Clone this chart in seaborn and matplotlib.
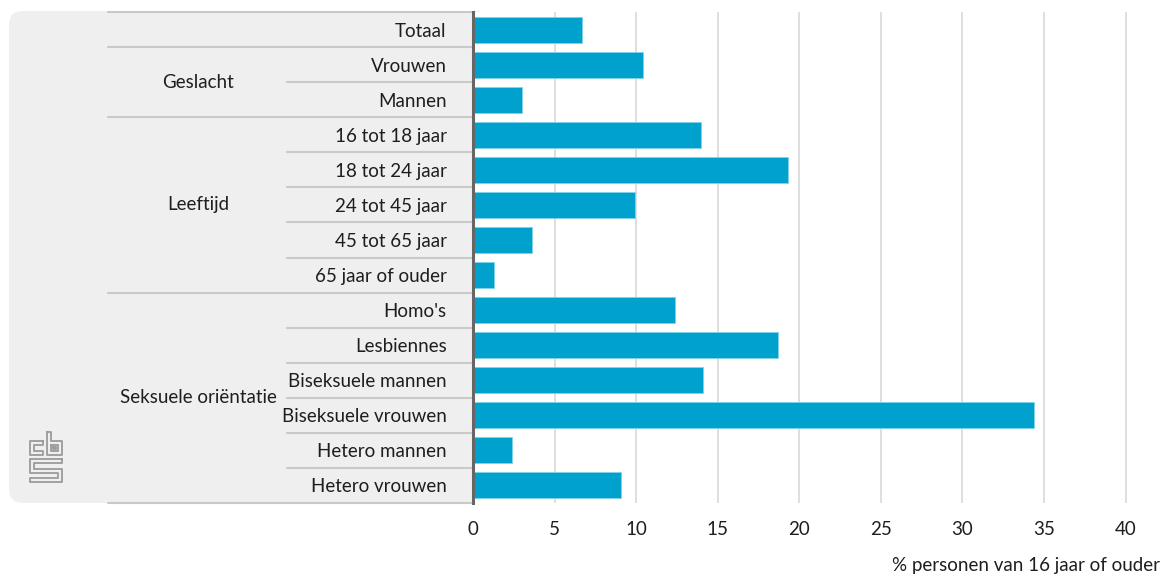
import matplotlib
matplotlib.use("Agg")
import matplotlib.pyplot as plt
import matplotlib.transforms as mtransforms
from matplotlib.patches import FancyBboxPatch
from matplotlib.lines import Line2D
import pandas as pd
import seaborn as sns

# -----------------------------
# Data
# -----------------------------
categories = ["Totaal", "Vrouwen", "Mannen",
              "16 tot 18 jaar", "18 tot 24 jaar", "24 tot 45 jaar",
              "45 tot 65 jaar", "65 jaar of ouder",
              "Homo's", "Lesbiennes", "Biseksuele mannen",
              "Biseksuele vrouwen", "Hetero mannen", "Hetero vrouwen"]
groups = ["", "Geslacht", "Geslacht",
          "Leeftijd", "Leeftijd", "Leeftijd", "Leeftijd", "Leeftijd",
          "Seksuele oriëntatie", "Seksuele oriëntatie", "Seksuele oriëntatie",
          "Seksuele oriëntatie", "Seksuele oriëntatie", "Seksuele oriëntatie"]
values = [6.7, 10.4, 3.0, 14.0, 19.3, 9.9, 3.6, 1.3,
          12.4, 18.7, 14.1, 34.4, 2.4, 9.1]
x_ticks = [0, 5, 10, 15, 20, 25, 30, 35, 40]
x_label = "% personen van 16 jaar of ouder"

BAR = "#00a1cd"
TEXT = "#1e1e1e"
PANEL = "#efefef"
SEP = "#c9c9c9"
FS = 13.5

W, H = 1165, 576

# -----------------------------
# Plot
# -----------------------------
sns.set_theme(style="white")
plt.rcParams["font.family"] = ["Lato", "DejaVu Sans"]

df = pd.DataFrame({"categorie": categories, "groep": groups, "waarde": values})

fig = plt.figure(figsize=(W / 100, H / 100), dpi=100)
ax = fig.add_axes([473 / W, (H - 503) / H, (1150 - 473) / W, (503 - 12) / H])
ax.set_zorder(1)

sns.barplot(data=df, y="categorie", x="waarde", orient="h", color=BAR,
            saturation=1, width=0.74, edgecolor="#7fd3ea", linewidth=0.6, ax=ax)

ax.set_xlim(0, 41.5)
ax.set_xticks(x_ticks)
ax.set_xticklabels([str(t) for t in x_ticks])
ax.set_xlabel("")
ax.set_ylabel("")
ax.grid(axis="x", color="#dcdcdc", linewidth=1.3)
ax.set_axisbelow(True)
for s in ["top", "right", "bottom"]:
    ax.spines[s].set_visible(False)
ax.spines["left"].set_color("#666666")
ax.spines["left"].set_linewidth(2.2)
ax.tick_params(axis="y", length=0, pad=19, labelsize=FS, labelcolor=TEXT)
ax.tick_params(axis="x", length=0, pad=13, labelsize=FS, labelcolor=TEXT)

# grey panel behind the labels
panel = FancyBboxPatch((9 / W, (H - 503) / H), (490 - 9) / W, (503 - 11) / H,
                       boxstyle="round,pad=0,rounding_size=0.012",
                       transform=fig.transFigure, facecolor=PANEL,
                       edgecolor="none", zorder=-1, mutation_aspect=W / H)
fig.patches.append(panel)

# separator lines between rows and groups
trans = mtransforms.blended_transform_factory(fig.transFigure, ax.transData)
n = len(categories)
for i in range(n + 1):
    yb = i - 0.5
    if i == 0 or i == n or groups[i] != groups[i - 1]:
        x0 = 108 / W
    else:
        x0 = 287 / W
    fig.add_artist(Line2D([x0, 473 / W], [yb, yb], transform=trans,
                          color=SEP, linewidth=1.5, zorder=0.5))

# group labels
for g in dict.fromkeys(groups):
    if not g:
        continue
    idx = [i for i, v in enumerate(groups) if v == g]
    yc = (idx[0] + idx[-1]) / 2
    fig.text(198 / W, yc, g, transform=trans, ha="center", va="center",
             fontsize=FS, color=TEXT)

# cbs logo
lx, ly = 30, 432
logo = [
    [(13, 9), (0, 9), (0, 23), (13, 23), (13, 19), (4, 19), (4, 13), (13, 13), (13, 9)],
    [(17, 0), (21, 0), (21, 9), (32, 9), (32, 23), (17, 23), (17, 0)],
    [(21, 13), (28, 13), (28, 19), (21, 19), (21, 13)],
    [(23, 15), (26, 15), (26, 17), (23, 17), (23, 15)],
    [(32, 27), (0, 27), (0, 41), (28, 41), (28, 46), (0, 46), (0, 50), (32, 50),
     (32, 37), (4, 37), (4, 31), (32, 31), (32, 27)],
]
for path in logo:
    xs = [(lx + p[0]) / W for p in path]
    ys = [1 - (ly + p[1]) / H for p in path]
    fig.add_artist(Line2D(xs, ys, transform=fig.transFigure, color="#9a9a9a",
                          linewidth=1.3, zorder=2))

fig.text(1160 / W, 1 - 565 / H, x_label, ha="right", va="center",
         fontsize=FS, color=TEXT)

fig.savefig("out.png", dpi=100, facecolor="white")
